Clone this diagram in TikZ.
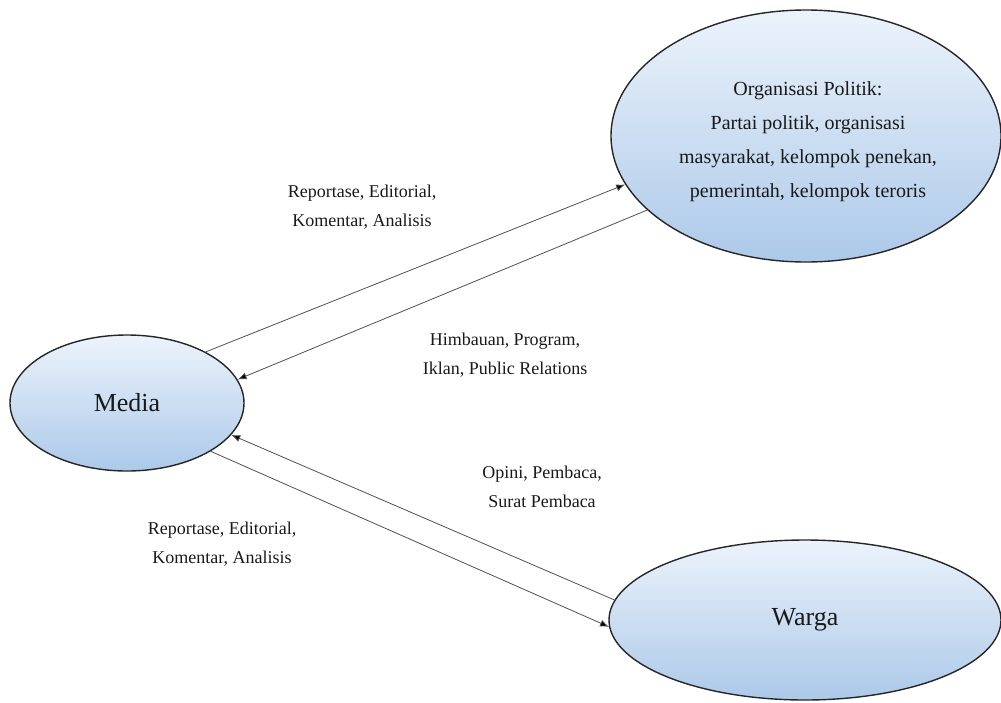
\documentclass[tikz,border=0pt]{standalone}
\usepackage{fontspec}
\setmainfont{Liberation Serif}
\usetikzlibrary{shapes.geometric,arrows.meta}
\definecolor{topfill}{RGB}{236,243,251}
\definecolor{botfill}{RGB}{172,201,233}
\definecolor{linegray}{RGB}{80,80,80}
\tikzset{
  bubble/.style={ellipse, draw=black!85, line width=1.4pt, inner sep=0pt,
    top color=topfill, bottom color=botfill, text=black!90},
  flow/.style={draw=linegray, line width=0.8pt, -{Latex[length=9pt,width=7pt,fill=black]}},
  lbl/.style={font=\fontsize{18}{29}\selectfont, align=center, text=black!90}
}
\begin{document}
\begin{tikzpicture}[x=1pt,y=-1pt]
\useasboundingbox (0,0) rectangle (1001,702);
\node[bubble, minimum width=234pt, minimum height=136pt, font=\fontsize{26}{30}\selectfont] (media) at (127,403) {Media};
\node[bubble, minimum width=390pt, minimum height=252pt] (org) at (806,136) {};
\node[align=center, font=\fontsize{20}{34}\selectfont, text=black!90] (orgtext) at (808,142) {Organisasi Politik:\\Partai politik, organisasi\\masyarakat, kelompok penekan,\\pemerintah, kelompok teroris};
\node[bubble, minimum width=392pt, minimum height=160pt, font=\fontsize{26}{30}\selectfont] (warga) at (805,620) {Warga};
\draw[flow] (media.33) -- (org.195);
\draw[flow] (org.205) -- (media.12);
\draw[flow] (warga.174) -- (media.-17.5);
\draw[flow] (media.-30.6) -- (warga.182.3);
\node[lbl] (l1) at (362,207) {Reportase, Editorial,\\Komentar, Analisis};
\node[lbl] (l2) at (505,355) {Himbauan, Program,\\Iklan, Public Relations};
\node[lbl] (l3) at (542,487) {Opini, Pembaca,\\Surat Pembaca};
\node[lbl] (l4) at (222,544) {Reportase, Editorial,\\Komentar, Analisis};
\end{tikzpicture}
\end{document}
